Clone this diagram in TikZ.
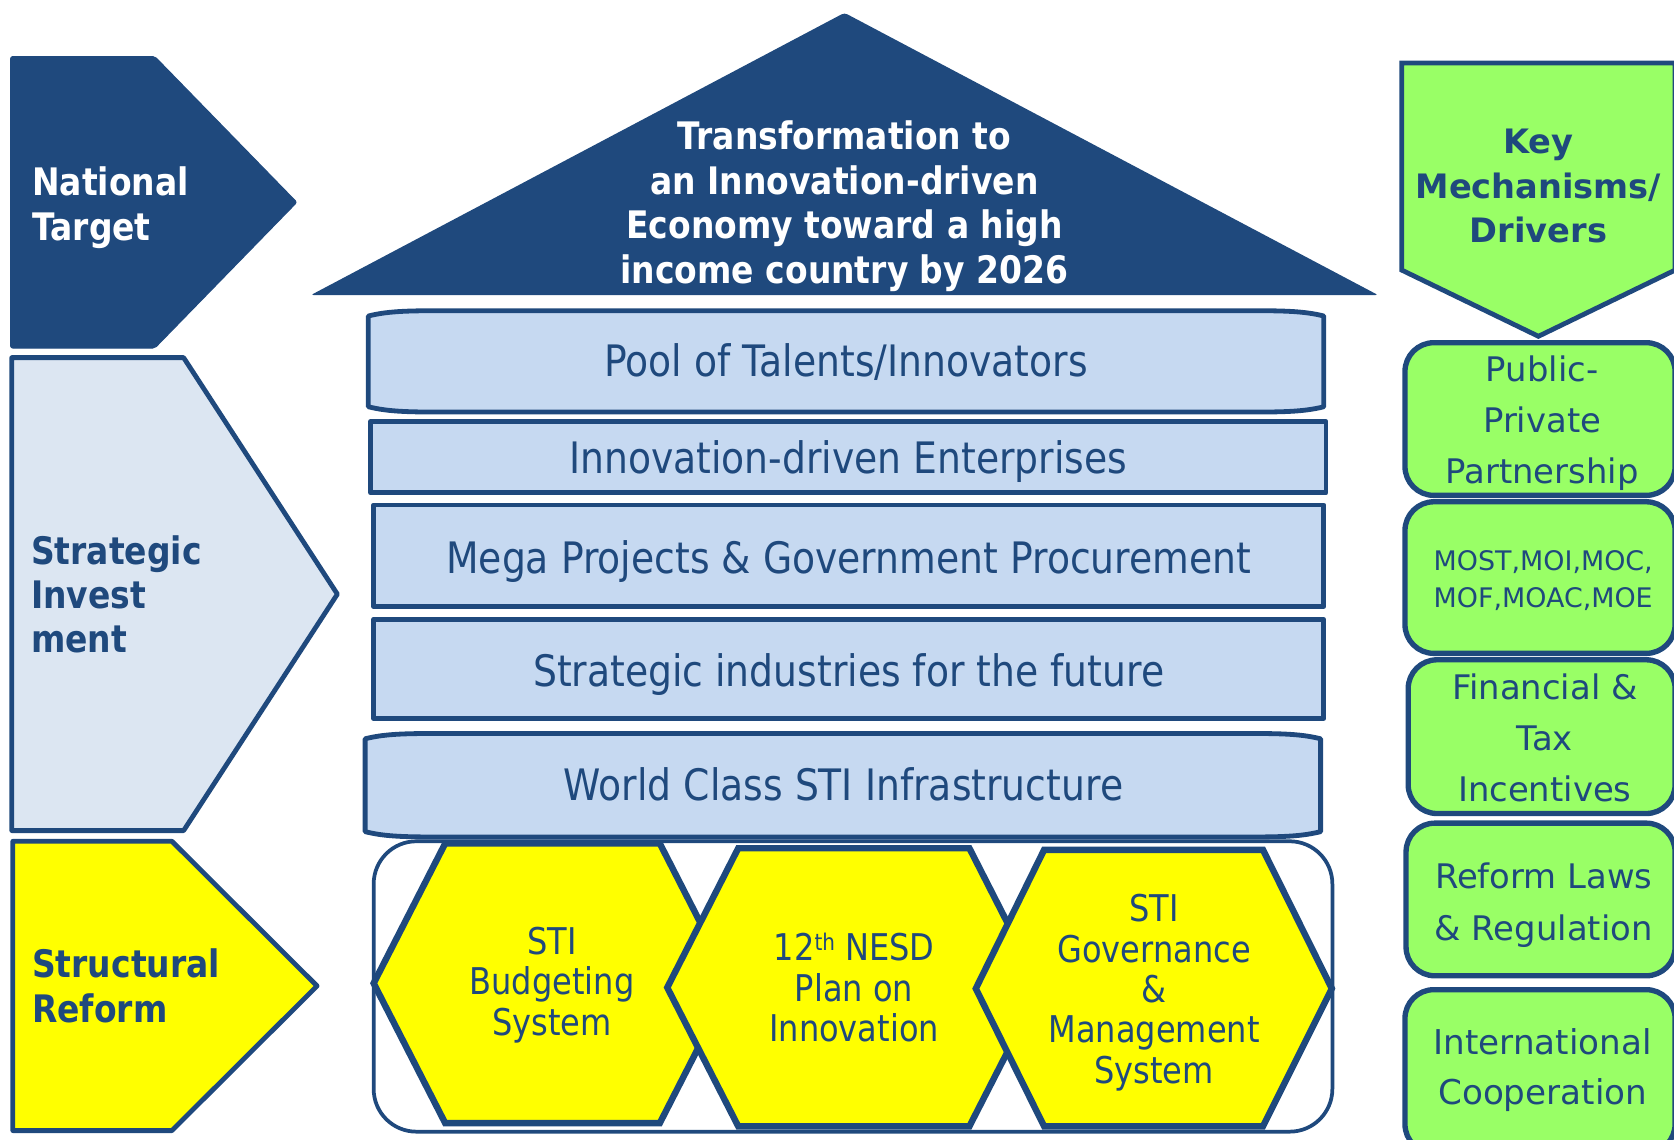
\documentclass[tikz,border=0pt]{standalone}
\usepackage{fontspec}
\setmainfont{DejaVu Sans}
\newfontfamily\tahfont[FakeStretch=0.87]{DejaVu Sans}
\definecolor{dblue}{HTML}{1F497D}
\definecolor{lblue}{HTML}{C6D9F1}
\definecolor{pblue}{HTML}{DCE6F2}
\definecolor{lgreen}{HTML}{99FF66}
\definecolor{yel}{HTML}{FFFF00}
\newcommand{\mlc}[3]{{\fontsize{#1}{#2}\selectfont\begin{tabular}[t]{@{}c@{}}#3\end{tabular}}}
\newcommand{\mll}[3]{{\fontsize{#1}{#2}\selectfont\begin{tabular}[t]{@{}l@{}}#3\end{tabular}}}
\tikzset{
  border/.style={draw=dblue, line width=4.5pt, line join=round},
  barbox/.style={draw=dblue, fill=lblue, line width=4.5pt, line join=round},
  greenbox/.style={draw=dblue, fill=lgreen, line width=5pt, rounded corners=27pt},
  hexbox/.style={draw=dblue, fill=yel, line width=6pt, line join=miter},
  lbl/.style={inner sep=0pt, anchor=base, text=dblue},
}
\begin{document}
\begin{tikzpicture}[x=1pt,y=-1pt]
\useasboundingbox (0,0) rectangle (1568,1067);
\clip (0,0) rectangle (1568,1067);

% ---- left column ----
\draw[draw=dblue, fill=dblue, line width=1pt, rounded corners=2pt]
  (10,53) -- (145,53) -- (278,189.5) -- (145,326) -- (10,326) -- cycle;
\draw[border, fill=pblue]
  (11,335) -- (172,335) -- (316,556.5) -- (172,778) -- (11,778) -- cycle;
\draw[border, fill=yel]
  (12,788) -- (161,788) -- (297,923.5) -- (161,1059) -- (12,1059) -- cycle;

\node[lbl, text=white, anchor=base west] (natl) at (30,183)
  {\tahfont\bfseries\mll{35.5}{42}{National\\Target}};
\node[lbl, anchor=base west] (strat) at (29,529)
  {\tahfont\bfseries\mll{35.5}{41}{Strategic\\Invest\\ment}};
\node[lbl, anchor=base west] (struct) at (30,916)
  {\tahfont\bfseries\mll{35.5}{42}{Structural\\Reform}};

% ---- roof ----
\fill[dblue, rounded corners=3pt] (291,276.5) -- (791,12) -- (1291,276.5) -- cycle;
\node[lbl, text=white] (roof) at (791,140.5)
  {\tahfont\bfseries\mlc{35.5}{41.6}{Transformation to\\an Innovation-driven\\Economy toward a high\\income country by 2026}};

% ---- central bars ----
\draw[barbox] (345,296) .. controls (365,291) and (385,291) .. (425,291) -- (1160,291)
  .. controls (1200,291) and (1220,291) .. (1240,296) -- (1240,381)
  .. controls (1220,386) and (1200,386) .. (1160,386) -- (425,386)
  .. controls (385,386) and (365,386) .. (345,381) -- cycle;
\draw[barbox] (347,395) rectangle (1242,461.5);
\draw[barbox] (350,473) rectangle (1240,568);
\draw[barbox] (350,580) rectangle (1240,673);
\draw[barbox] (342,692) .. controls (362,687) and (382,687) .. (422,687) -- (1157,687)
  .. controls (1197,687) and (1217,687) .. (1237,692) -- (1237,779)
  .. controls (1217,784) and (1197,784) .. (1157,784) -- (422,784)
  .. controls (382,784) and (362,784) .. (342,779) -- cycle;

\node[lbl] (pool) at (792.5,352.5) {\tahfont\fontsize{40.6}{48}\selectfont Pool of Talents/Innovators};
\node[lbl] (ide) at (794.5,443.8) {\tahfont\fontsize{40.6}{48}\selectfont Innovation-driven Enterprises};
\node[lbl] (mega) at (795,536.8) {\tahfont\fontsize{40.6}{48}\selectfont Mega Projects \& Government Procurement};
\node[lbl] (sind) at (795,643) {\tahfont\fontsize{40.6}{48}\selectfont Strategic industries for the future};
\node[lbl] (wcsti) at (790,750) {\tahfont\fontsize{40.6}{48}\selectfont World Class STI Infrastructure};

% ---- structural reform container and hexagons ----
\draw[draw=dblue, fill=white, line width=3.5pt, rounded corners=40pt] (350,788) rectangle (1248,1060);
\draw[hexbox] (350,921) -- (417,790) -- (618,790) -- (685,921) -- (618,1052) -- (417,1052) -- cycle;
\draw[hexbox] (625,925) -- (691.5,794.5) -- (908,794.5) -- (974.5,925) -- (908,1055) -- (691.5,1055) -- cycle;
\draw[hexbox] (914,926) -- (978,796) -- (1183,796) -- (1247.5,926) -- (1183,1055) -- (978,1055) -- cycle;

\node[lbl] (h1t) at (517,894) {\tahfont\mlc{34.5}{37.8}{STI\\Budgeting\\System}};
\node[lbl] (h2t) at (800,900) {\tahfont\mlc{34.5}{37.8}{12\raisebox{10pt}{\fontsize{21.5}{20}\selectfont th} NESD\\Plan on\\Innovation}};
\node[lbl] (h3t) at (1081,863.5) {\tahfont\mlc{34.5}{37.8}{STI\\Governance\\\&\\Management\\System}};

% ---- right column ----
\draw[border, fill=lgreen, line join=miter]
  (1313,59) -- (1569,59) -- (1569,253) -- (1441,315) -- (1313,253) -- cycle;
\node[lbl] (key) at (1441,143.6) {\bfseries\mlc{31.5}{42}{Key\\Mechanisms/\\Drivers}};

\draw[greenbox] (1316,321) rectangle (1569,464);
\draw[greenbox] (1316,470) rectangle (1569,612);
\draw[greenbox] (1319,618) rectangle (1569,762);
\draw[greenbox] (1317,771) rectangle (1569,914);
\draw[greenbox] (1316,927) rectangle (1569,1080);

\node[lbl] (ppp) at (1444.5,357.5) {\mlc{31.7}{47.6}{Public-\\Private\\Partnership}};
\node[lbl] (most) at (1445.5,534) {\mlc{25.2}{35}{MOST,MOI,MOC,\\MOF,MOAC,MOE}};
\node[lbl] (fin) at (1447,655) {\mlc{31.7}{48}{Financial \&\\Tax\\Incentives}};
\node[lbl] (law) at (1446,832) {\mlc{31.7}{48.5}{Reform Laws\\\& Regulation}};
\node[lbl] (intl) at (1445,988) {\mlc{32}{47}{International\\Cooperation}};
\end{tikzpicture}
\end{document}
